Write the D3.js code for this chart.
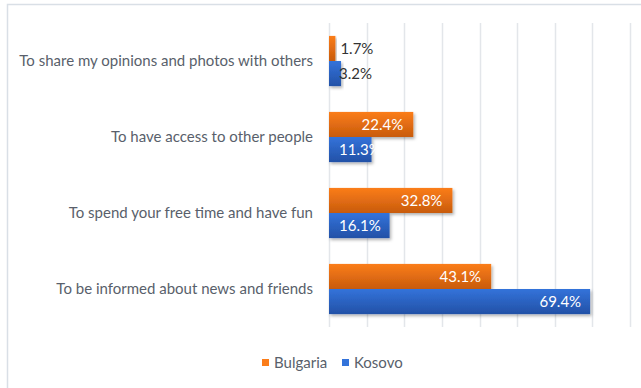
<!DOCTYPE html>
<html>
<head>
<meta charset="utf-8">
<script src="https://cdn.jsdelivr.net/npm/d3@7"></script>
<style>
  html, body { margin: 0; padding: 0; background: #fff; }
  svg { display: block; }
  text { font-family: Lato, "Open Sans", sans-serif; }
</style>
</head>
<body>
<svg id="chart" width="641" height="388"></svg>
<script>
// Reasons for using social networks, by country (%)
const categories = [
  "To share my opinions and photos with others",
  "To have access to other people",
  "To spend your free time and have fun",
  "To be informed about news and friends"
];
const seriesNames = ["Bulgaria", "Kosovo"];
const bulgaria = [1.7, 22.4, 32.8, 43.1];
const kosovo = [3.2, 11.3, 16.1, 69.4];
const xTicks = [0, 10, 20, 30, 40, 50, 60, 70, 80];

const colors = {
  Bulgaria: ["#fb7d1a", "#c85b0c"],
  Kosovo: ["#3373da", "#2351a7"]
};
const FONT = "15px";

const svg = d3.select("#chart");
const W = 641, H = 388;
const plot = { left: 329, right: 630, top: 23, bottom: 327 };

// frame around the chart area
svg.append("path")
  .attr("d", `M7.5,${H} V4.5 H${W}`)
  .attr("fill", "none")
  .attr("stroke", "#d9dfe6")
  .attr("stroke-width", 1.5);

const defs = svg.append("defs");
seriesNames.forEach(name => {
  const g = defs.append("linearGradient")
    .attr("id", "grad-" + name)
    .attr("x1", 0).attr("y1", 0).attr("x2", 0).attr("y2", 1);
  g.append("stop").attr("offset", "0%").attr("stop-color", colors[name][0]);
  g.append("stop").attr("offset", "100%").attr("stop-color", colors[name][1]);
});
const f = defs.append("filter").attr("id", "shadow")
  .attr("x", "-10%").attr("y", "-20%").attr("width", "130%").attr("height", "160%");
f.append("feDropShadow").attr("dx", 1.5).attr("dy", 2).attr("stdDeviation", 1.5)
  .attr("flood-color", "#000").attr("flood-opacity", 0.3);

const x = d3.scaleLinear().domain([0, 80]).range([plot.left, plot.right]);
const y = d3.scaleBand().domain(categories).range([plot.top, plot.bottom])
  .paddingInner(0.34).paddingOuter(0.17);
const sub = d3.scaleBand().domain(seriesNames).range([0, y.bandwidth()]);

// vertical gridlines
svg.append("g")
  .selectAll("line")
  .data(xTicks)
  .join("line")
  .attr("x1", d => Math.round(x(d)) + 0.5)
  .attr("x2", d => Math.round(x(d)) + 0.5)
  .attr("y1", plot.top)
  .attr("y2", plot.bottom)
  .attr("stroke", "#e3e6ea")
  .attr("stroke-width", 1.5);

// category axis labels
const yAxis = d3.axisLeft(y).tickSize(0).tickPadding(16);
const ga = svg.append("g").attr("transform", `translate(${plot.left},0)`).call(yAxis);
ga.select(".domain").remove();
ga.selectAll("text")
  .attr("fill", "#595f6b")
  .style("font-size", FONT)
  .style("font-family", "Lato, 'Open Sans', sans-serif");

const rows = categories.map((c, i) => ({ c, Bulgaria: bulgaria[i], Kosovo: kosovo[i] }));
const data = rows.flatMap(r => seriesNames.map(s => ({ c: r.c, s, v: r[s] })));

// bars
svg.append("g")
  .selectAll("rect")
  .data(data)
  .join("rect")
  .attr("x", x(0))
  .attr("y", d => y(d.c) + sub(d.s))
  .attr("width", d => x(d.v) - x(0))
  .attr("height", sub.bandwidth())
  .attr("fill", d => `url(#grad-${d.s})`)
  .attr("filter", "url(#shadow)");

// value labels
const fmt = d => d.toFixed(1) + "%";
svg.append("g")
  .selectAll("text")
  .data(data)
  .join("text")
  .attr("y", d => y(d.c) + sub(d.s) + sub.bandwidth() / 2)
  .attr("dy", "0.35em")
  .style("font-size", FONT)
  .each(function (d) {
    const t = d3.select(this).text(fmt(d.v));
    const end = x(d.v);
    if (d.s === "Bulgaria") {
      if (d.v < 5) t.attr("x", end + 5).attr("text-anchor", "start").attr("fill", "#333");
      else t.attr("x", end - 10).attr("text-anchor", "end").attr("fill", "#fff");
    } else {
      if (d.v > 50) t.attr("x", end - 9).attr("text-anchor", "end").attr("fill", "#fff");
      else t.attr("x", x(0) + 10).attr("text-anchor", "start")
        .attr("fill", d.v < 5 ? "#333" : "#fff");
    }
  });

// legend
const legend = svg.append("g").attr("transform", "translate(262,363)");
const items = [{ s: "Bulgaria", x: 0 }, { s: "Kosovo", x: 80 }];
const li = legend.selectAll("g").data(items).join("g")
  .attr("transform", d => `translate(${d.x},0)`);
li.append("rect").attr("x", 0).attr("y", -4).attr("width", 7).attr("height", 7)
  .attr("fill", d => colors[d.s][0]);
li.append("text").attr("x", 12).attr("y", 0).attr("dy", "0.35em")
  .attr("fill", "#595f6b").style("font-size", FONT)
  .text(d => d.s);
</script>
</body>
</html>
